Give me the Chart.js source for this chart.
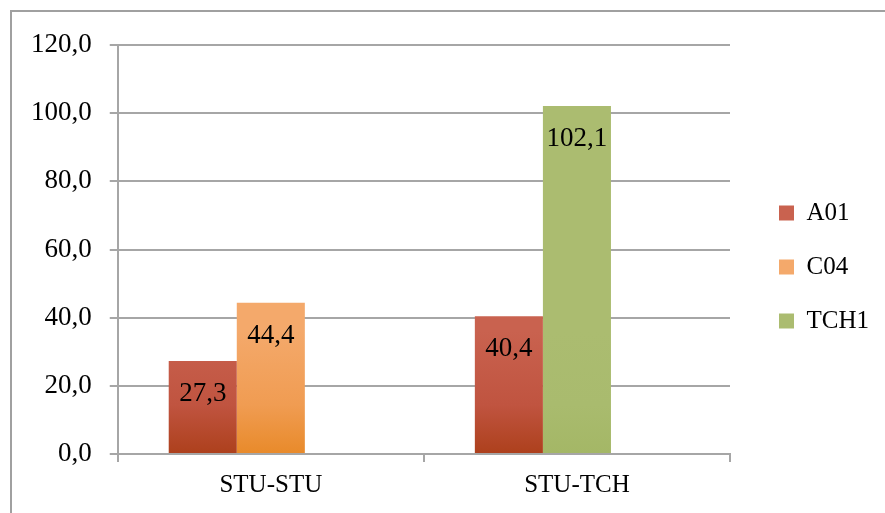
<!DOCTYPE html>
<html>
<head>
<meta charset="utf-8">
<script src="https://cdn.jsdelivr.net/npm/chart.js@4"></script>
<style>
  body { margin: 0; background: #fff; overflow: hidden; }
  #frame { position: absolute; left: 10px; top: 10px; width: 900px; height: 600px; border: 2px solid #a0a0a0; }
  #wrap { position: absolute; left: 0; top: 0; width: 885px; height: 513px; }
</style>
</head>
<body>
<div id="frame"></div>
<div id="wrap"><canvas id="myChart" width="885" height="513"></canvas></div>
<script>
const categories = ['STU-STU', 'STU-TCH'];
const a01 = [27.3, 40.4];
const c04 = [44.4, null];
const tch1 = [null, 102.1];
const yTicks = [0, 20, 40, 60, 80, 100, 120];

const FONT = "'Liberation Serif', 'DejaVu Serif', serif";

function fmt(v) {
    return v.toFixed(1).replace('.', ',');
}

function grad(chart, bottom, mid, top) {
    const area = chart.chartArea;
    if (!area) return top;
    const g = chart.ctx.createLinearGradient(0, area.bottom, 0, area.top);
    g.addColorStop(0, bottom);
    g.addColorStop(0.12, mid);
    g.addColorStop(0.3, top);
    g.addColorStop(1, top);
    return g;
}

// value labels near the top inside each bar
const barLabels = {
    id: 'barLabels',
    afterDatasetsDraw(chart) {
        const c = chart.ctx;
        c.save();
        c.font = '27px ' + FONT;
        c.fillStyle = '#000';
        c.textAlign = 'center';
        c.textBaseline = 'middle';
        chart.data.datasets.forEach((ds, i) => {
            chart.getDatasetMeta(i).data.forEach((bar, j) => {
                const v = ds.data[j];
                if (v === null || v === undefined) return;
                c.fillText(fmt(v), bar.x, bar.y + 33);
            });
        });
        c.restore();
    }
};

const ctx = document.getElementById('myChart');
const PLOT = new Chart(ctx, {
    type: 'bar',
    data: {
        labels: categories,
        datasets: [{
            label: 'A01',
            data: a01,
            stack: 's1',
            backgroundColor: (c) => grad(c.chart, '#ad401c', '#c05440', '#c9624f')
        },{
            label: 'C04',
            data: c04,
            stack: 's2',
            backgroundColor: (c) => grad(c.chart, '#e88a2a', '#f09c52', '#f4a96b')
        },{
            label: 'TCH1',
            data: tch1,
            stack: 's2',
            backgroundColor: (c) => grad(c.chart, '#a4b766', '#a9bb6e', '#abbc70')
        },{
            // empty third slot, as in the original layout
            label: '',
            data: [null, null],
            stack: 's3'
        }]
    },
    options: {
        responsive: false,
        animation: false,
        categoryPercentage: 0.667,
        barPercentage: 1,
        layout: { padding: { left: 13, top: 26, right: 6, bottom: 5 } },
        plugins: {
            legend: {
                position: 'right',
                labels: {
                    boxWidth: 15,
                    boxHeight: 15,
                    padding: 29,
                    color: '#000',
                    font: { family: FONT, size: 25 },
                    filter: (item) => item.text !== ''
                }
            },
            tooltip: { enabled: false }
        },
        scales: {
            x: {
                grid: {
                    offset: true,
                    drawOnChartArea: false,
                    drawTicks: true,
                    tickLength: 8,
                    color: '#a6a6a6',
                    lineWidth: 2
                },
                border: { color: '#a6a6a6', width: 2 },
                ticks: {
                    color: '#000',
                    padding: 8,
                    font: { family: FONT, size: 25 }
                }
            },
            y: {
                min: 0,
                max: 120,
                afterBuildTicks: (s) => { s.ticks = yTicks.map(v => ({ value: v })); },
                grid: {
                    color: '#a6a6a6',
                    lineWidth: 2,
                    tickLength: 8
                },
                border: { color: '#a6a6a6', width: 2 },
                ticks: {
                    color: '#000',
                    padding: 18,
                    font: { family: FONT, size: 27 },
                    callback: (v) => fmt(v)
                }
            },
            // empty spacer between plot and legend
            gap: {
                type: 'linear',
                position: 'right',
                display: true,
                grid: { display: false },
                border: { display: false },
                ticks: { display: false },
                afterFit: (s) => { s.width = 20; }
            },
            // empty spacer above the plot
            topGap: {
                type: 'linear',
                position: 'top',
                display: true,
                grid: { display: false },
                border: { display: false },
                ticks: { display: false },
                afterFit: (s) => { s.height = 19; }
            }
        }
    },
    plugins: [barLabels]
});
</script>
</body>
</html>
